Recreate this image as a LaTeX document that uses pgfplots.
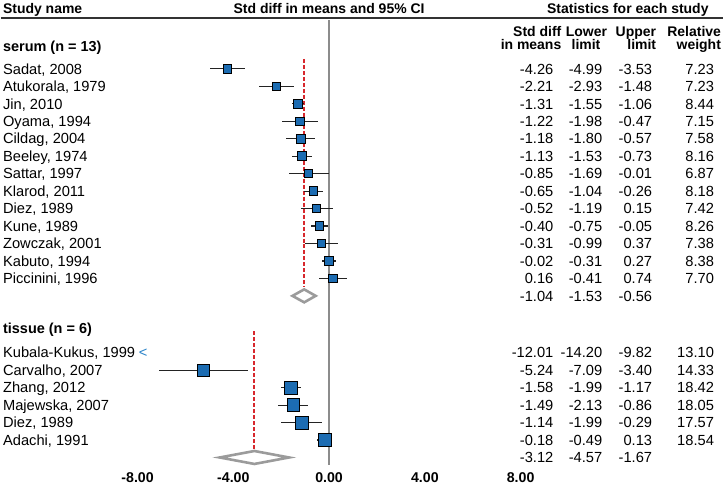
\documentclass[border=0pt]{standalone}
\usepackage{pgfplots}
\pgfplotsset{compat=1.18}
\usepackage{pgfplotstable}
\usepackage{fontspec}
\setmainfont{Liberation Sans}
\definecolor{sqblue}{RGB}{28,108,178}
\definecolor{arrblue}{RGB}{40,130,200}
\definecolor{dgrey}{RGB}{155,155,155}
\definecolor{zgrey}{RGB}{140,140,140}
\definecolor{rdash}{RGB}{215,40,45}
\definecolor{ebar}{RGB}{35,35,35}
\definecolor{hline}{RGB}{50,50,50}
\newcommand{\fs}{\fontsize{14.7}{17}\selectfont}
\newcommand{\hb}{\fontsize{14}{16}\selectfont\bfseries}
\tikzset{txt/.style={inner sep=0pt, text height=10.5pt, text depth=0pt},
         htxt/.style={inner sep=0pt, text height=10pt, text depth=0pt, font=\hb}}

% y = vertical position of the row (pixels from top)
\pgfplotstableread[col sep=semicolon]{
y;name;es;lo;hi;w
69;Sadat, 2008;-4.26;-4.99;-3.53;7.23
86.5;Atukorala, 1979;-2.21;-2.93;-1.48;7.23
104;Jin, 2010;-1.31;-1.55;-1.06;8.44
121.5;Oyama, 1994;-1.22;-1.98;-0.47;7.15
139;Cildag, 2004;-1.18;-1.80;-0.57;7.58
156.5;Beeley, 1974;-1.13;-1.53;-0.73;8.16
174;Sattar, 1997;-0.85;-1.69;-0.01;6.87
191.5;Klarod, 2011;-0.65;-1.04;-0.26;8.18
209;Diez, 1989;-0.52;-1.19;0.15;7.42
226.5;Kune, 1989;-0.40;-0.75;-0.05;8.26
244;Zowczak, 2001;-0.31;-0.99;0.37;7.38
261.5;Kabuto, 1994;-0.02;-0.31;0.27;8.38
279;Piccinini, 1996;0.16;-0.41;0.74;7.70
}\serum

\pgfplotstableread[col sep=semicolon]{
y;name;es;lo;hi;w
353.5;Kubala-Kukus, 1999;-12.01;-14.20;-9.82;13.10
371;Carvalho, 2007;-5.24;-7.09;-3.40;14.33
388.5;Zhang, 2012;-1.58;-1.99;-1.17;18.42
406;Majewska, 2007;-1.49;-2.13;-0.86;18.05
423.5;Diez, 1989;-1.14;-1.99;-0.29;17.57
441;Adachi, 1991;-0.18;-0.49;0.13;18.54
}\tissue

\pgfplotstableread[col sep=semicolon]{
y;es;lo;hi
296.5;-1.04;-1.53;-0.56
458.5;-3.12;-4.57;-1.67
}\summ

\newcommand{\numcol}[4]{%
  \addplot[draw=none, mark=none, nodes near coords, point meta=explicit symbolic,
    nodes near coords style={txt, anchor=#4}]
    table[x expr=#3, y expr=-\thisrow{y}, meta=#2]{#1};}

\newcommand{\studies}[1]{%
  \addplot[only marks, mark=square*, scatter,
    scatter/use mapped color={draw=black, fill=sqblue},
    mark options={line width=0.8pt},
    visualization depends on={1.52*sqrt(\thisrow{w}) \as \ms},
    scatter/@pre marker code/.append style={/tikz/mark size=\ms},
    restrict x to domain=-8:8,
    error bars/.cd, x dir=both, x explicit, error mark=none,
    error bar style={line width=1.1pt, ebar}]
    table[x=es, y expr=-\thisrow{y},
      x error plus expr=\thisrow{hi}-\thisrow{es},
      x error minus expr=\thisrow{es}-\thisrow{lo}]{#1};}

\begin{document}
\fs
\begin{tikzpicture}
\begin{axis}[
  scale only axis, width=384pt, height=468pt,
  xmin=-8, xmax=8, ymin=-468, ymax=0,
  clip=false, axis line style={draw=none}, major tick length=0pt,
  ytick=\empty,
  xtick={-8,-4,0,4,8},
  xticklabels={-8.00,-4.00,0.00,4.00,8.00},
  xticklabel style={inner sep=0pt, text height=10pt, text depth=0pt,
    font=\fontsize{14.2}{16}\selectfont\bfseries, anchor=north, yshift=-5pt},
]
% bounding box
\path (axis cs:-13.708,0) rectangle (axis cs:16.458,-485);
% header
\draw[line width=1.8pt, hline] (axis cs:-13.708,-18) -- (axis cs:16.458,-18);
\node[htxt, anchor=west] at (axis cs:-13.625,-8) {Study name};
\node[htxt] at (axis cs:0,-8) {Std diff in means and 95\% CI};
\node[htxt] at (axis cs:12.479,-8) {Statistics for each study};
\node[htxt, anchor=east] at (axis cs:9.708,-31.5) {Std diff};
\node[htxt, anchor=east] at (axis cs:9.708,-45) {in means};
\node[htxt] at (axis cs:10.75,-31.5) {Lower};
\node[htxt] at (axis cs:10.73,-45) {limit};
\node[htxt, anchor=east] at (axis cs:13.667,-31.5) {Upper};
\node[htxt, anchor=east] at (axis cs:13.667,-45) {limit};
\node[htxt, anchor=east] at (axis cs:16.375,-31.5) {Relative};
\node[htxt, anchor=east] at (axis cs:16.375,-45) {weight};
\node[txt, anchor=west, font=\fontsize{14.5}{17}\selectfont\bfseries] at (axis cs:-13.625,-46) {serum (n = 13)};
\node[txt, anchor=west, font=\fontsize{14.5}{17}\selectfont\bfseries] at (axis cs:-13.625,-329) {tissue (n = 6)};
% zero line
\addplot[zgrey, line width=1.8pt] coordinates {(0,-20) (0,-466)};
% pooled effect lines
\addplot[rdash, line width=2pt, dash pattern=on 4pt off 2pt] coordinates {(-1.04,-59) (-1.04,-288)};
\addplot[rdash, line width=2pt, dash pattern=on 4pt off 2pt] coordinates {(-3.12,-332) (-3.12,-450)};
% diamonds
\addplot[dgrey, line width=2.6pt, fill=white, line join=miter]
  coordinates {(-1.53,-296.5) (-1.04,-290) (-0.56,-296.5) (-1.04,-303)} -- cycle;
\addplot[dgrey, line width=2.6pt, fill=white, line join=miter]
  coordinates {(-4.57,-458.5) (-3.12,-452) (-1.67,-458.5) (-3.12,-465)} -- cycle;
% studies
\studies{\serum}
\studies{\tissue}
\node[txt, text=arrblue] at (axis cs:-7.77,-353.5) {<};
% text columns
\numcol{\serum}{name}{-13.625}{west}
\numcol{\tissue}{name}{-13.625}{west}
\numcol{\serum}{es}{9.375}{east}
\numcol{\serum}{lo}{11.417}{east}
\numcol{\serum}{hi}{13.5}{east}
\numcol{\serum}{w}{16.083}{east}
\numcol{\tissue}{es}{9.375}{east}
\numcol{\tissue}{lo}{11.417}{east}
\numcol{\tissue}{hi}{13.5}{east}
\numcol{\tissue}{w}{16.083}{east}
\numcol{\summ}{es}{9.375}{east}
\numcol{\summ}{lo}{11.417}{east}
\numcol{\summ}{hi}{13.5}{east}
\end{axis}
\end{tikzpicture}
\end{document}
